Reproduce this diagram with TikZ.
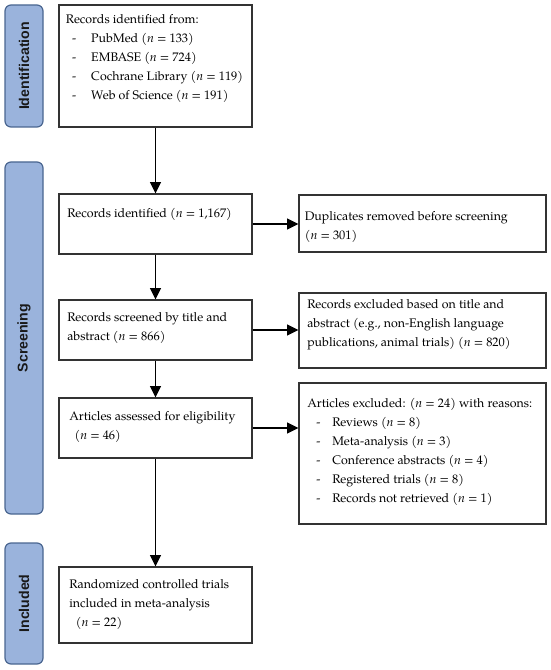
\documentclass[tikz,border=0pt]{standalone}
\usepackage{fontspec}
\setmainfont{TeX Gyre Pagella}
\newfontfamily\sidefont{Liberation Sans}
\usetikzlibrary{arrows.meta}
\definecolor{sidefill}{HTML}{9AB3DC}
\definecolor{sideline}{HTML}{4A6690}
\definecolor{boxline}{HTML}{333333}
\newcommand{\nn}{\textit{n}}
\newcommand{\bul}[2]{\hspace*{#1}\makebox[#2][l]{-}}
\begin{document}
\begin{tikzpicture}[x=0.75pt,y=-0.75pt,
  box/.style={draw=boxline,line width=0.9pt,rectangle,inner sep=0pt},
  side/.style={draw=sideline,fill=sidefill,line width=0.9pt,rectangle,rounded corners=4.5pt,inner sep=0pt,minimum width=28.5pt},
  sidetxt/.style={font=\sidefont\bfseries\fontsize{10.6}{12}\selectfont,text=black!90,rotate=90},
  txt/.style={anchor=north west,inner sep=0pt,align=left,font=\fontsize{9.3}{14.25}\selectfont},
  arr/.style={line width=1.4pt,-{Triangle[length=8.5pt,width=8pt]}}]
\useasboundingbox (0,0) rectangle (550,670);
% side bars
\node[side,minimum height=91.5pt] (sid) at (24,66) {};
\node[side,minimum height=264pt] (ssc) at (24,338) {};
\node[side,minimum height=90.75pt] (sin) at (24,603.5) {};
\node[sidetxt] (lid) at (sid) {Identification};
\node[sidetxt] (lsc) at (ssc) {Screening};
\node[sidetxt] (lin) at (sin) {Included};
% boxes
\node[box,minimum width=144.75pt,minimum height=91.5pt] (b1) at (155.5,66) {};
\node[box,minimum width=144.75pt,minimum height=45pt] (b2) at (155.5,224) {};
\node[box,minimum width=144.75pt,minimum height=45pt] (b3) at (155.5,330) {};
\node[box,minimum width=144.75pt,minimum height=45pt] (b4) at (155.5,428) {};
\node[box,minimum width=144.75pt,minimum height=57pt] (b5) at (155.5,605) {};
\node[box,minimum width=185.25pt,minimum height=42.75pt] (dup) at (422.5,223.5) {};
\node[box,minimum width=185.25pt,minimum height=56.25pt] (ex) at (422.5,330.5) {};
\node[box,minimum width=185.25pt,minimum height=105.75pt] (ae) at (422.5,453.5) {};
% texts
\node[txt] (t1) at (65.7,14) {Records identified from:\\
\bul{4.7pt}{14.25pt}PubMed (\nn{} = 133)\\
\bul{4.7pt}{14.25pt}EMBASE (\nn{} = 724)\\
\bul{4.7pt}{14.25pt}Cochrane Library (\nn{} = 119)\\
\bul{4.7pt}{14.25pt}Web of Science (\nn{} = 191)};
\node[txt] (t2) at (67,208) {Records identified (\nn{} = 1,167)};
\node[txt] (tdup) at (304.6,211) {Duplicates removed before screening\\(\nn{} = 301)};
\node[txt] (t3) at (67,312) {Records screened by title and\\abstract (\nn{} = 866)};
\node[txt] (tex) at (307,299) {Records excluded based on title and\\abstract (e.g., non-English language\\publications, animal trials) (\nn{} = 820)};
\node[txt] (t4) at (69,411) {Articles assessed for eligibility\\\hspace*{4pt}(\nn{} = 46)};
\node[txt] (tae) at (307,398) {Articles excluded: (\nn{} = 24) with reasons:\\
\bul{6.75pt}{12pt}Reviews (\nn{} = 8)\\
\bul{6.75pt}{12pt}Meta-analysis (\nn{} = 3)\\
\bul{6.75pt}{12pt}Conference abstracts (\nn{} = 4)\\
\bul{6.75pt}{12pt}Registered trials (\nn{} = 8)\\
\bul{6.75pt}{12pt}Records not retrieved (\nn{} = 1)};
\node[txt] (t5) at (69,579) {Randomized controlled trials\\included in meta-analysis\\\hspace*{5pt}(\nn{} = 22)};
% arrows
\draw[arr] (b1.south) -- (b2.north);
\draw[arr] (b2.south) -- (b3.north);
\draw[arr] (b3.south) -- (b4.north);
\draw[arr] (b4.south) -- (b5.north);
\draw[arr] (b2.east) -- (b2.east -| dup.west);
\draw[arr] (b3.east) -- (b3.east -| ex.west);
\draw[arr] (b4.east) -- (b4.east -| ae.west);
\end{tikzpicture}
\end{document}
